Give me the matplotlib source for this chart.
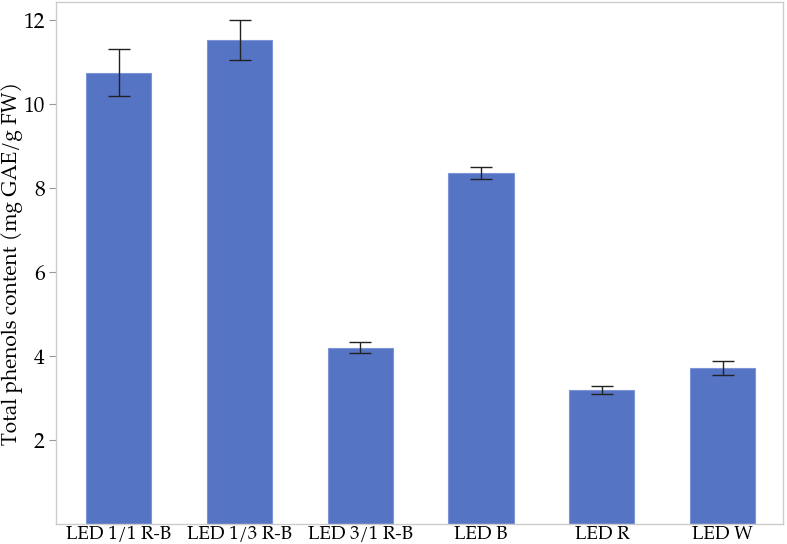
import matplotlib
matplotlib.use('Agg')
import matplotlib.pyplot as plt

categories = ['LED 1/1 R-B', 'LED 1/3 R-B', 'LED 3/1 R-B', 'LED B', 'LED R', 'LED W']
phenols = [10.75, 11.53, 4.20, 8.36, 3.19, 3.71]
errors = [0.565, 0.48, 0.13, 0.15, 0.095, 0.16]

plt.rcParams['font.family'] = ['TeX Gyre Pagella', 'DejaVu Serif']

fig = plt.figure(figsize=(7.87, 5.44), dpi=100)
ax = fig.add_axes([56 / 787, 20 / 544, 727 / 787, 522 / 544])

x = list(range(len(categories)))
ax.bar(x, phenols, width=0.54, color='#5674c4', edgecolor='#7d95d8', linewidth=0.8, zorder=2)
ax.errorbar(x, phenols, yerr=errors, fmt='none', ecolor='#222222',
            elinewidth=1.0, capsize=8, capthick=1.0, zorder=3)

ax.set_xlim(-0.52, 5.5)
ax.set_ylim(0, 12.43)
ax.set_yticks([2, 4, 6, 8, 10, 12])
ax.set_xticks(x)
ax.set_xticklabels(categories)
ax.set_ylabel('Total phenols content (mg GAE/g FW)', fontsize=15, labelpad=0)

for spine in ax.spines.values():
    spine.set_color('#cccccc')
    spine.set_linewidth(1.0)
ax.tick_params(axis='y', length=5, color='#999999', labelsize=15.5, pad=3)
ax.tick_params(axis='x', length=0, labelsize=13.5, pad=1)

fig.savefig('out.png', dpi=100)
